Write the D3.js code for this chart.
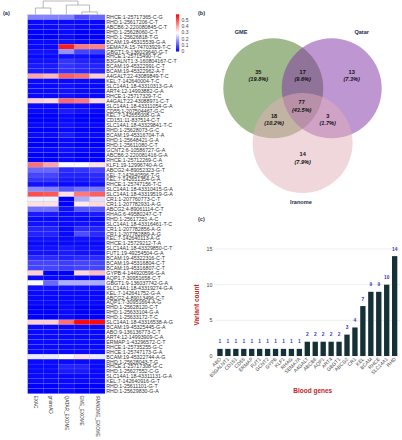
<!DOCTYPE html>
<html><head><meta charset="utf-8">
<script src="https://cdn.jsdelivr.net/npm/d3@7"></script>
<style>body{margin:0;background:#fff}svg{display:block;font-family:"Liberation Sans",Arial,sans-serif}</style>
</head><body><svg id="c" width="402" height="440"></svg>
<script>
const rowLabels = ["RHCE:1-25717365-C-G","RHD:1-25617206-C-T","ABCB6:2-220080845-C-T","RHD:1-25628060-C-T","RHD:1-25626818-T-G","BCAM:19-45315539-G-A","SEMA7A:15-74703929-T-C","GBGT1:9-136029640-G-T","RHCE:1-25715490-T-C","B3GALNT1:3-160804167-C-T",
"BCAM:19-45322991-C-T","BCAM:19-45322962-A-T","A4GALT:22-43089849-T-C","KEL:7-142640004-T-C","SLC14A1:18-43310313-G-A","ART4:12-14993882-G-A","RHCE:1-25717329-T-C","A4GALT:22-43088971-C-T","SLC14A1:18-43311054-G-A","CD55:1-207504467-G-C",
"KEL:7-142655008-G-A","CD151:11-837514-C-T","SLC14A1:18-43329841-T-C","RHD:1-25628073-G-C","BCAM:19-45316704-T-A","RHD:1-25648421-G-A","RHD:1-25611080-C-T","GCNT2:6-10586727-G-A","ABCB6:2-220081416-G-A","RHCE:1-25712269-C-A",
"KLF1:19-12996740-A-G","ABCG2:4-89052323-G-T","KEL:7-142640596-T-G","KEL:7-142651354-G-A","RHCE:1-25747156-T-C","SLC14A1:18-43310415-G-A","SLC14A1:18-43319519-G-A","CR1:1-207760773-C-T","CR1:1-207782931-A-G","ABCG2:4-89061114-C-T",
"RHAG:6-49580247-C-T","RHD:1-25617251-A-C","SLC14A1:18-43316461-T-C","CR1:1-207782856-A-G","CR1:1-207782889-A-G","KEL:7-142640113-A-G","RHCE:1-25729212-T-A","SLC14A1:18-43329850-C-T","FUT1:19-49254504-G-A","BCAM:19-45322316-C-T",
"BCAM:19-45316804-C-T","BCAM:19-45316807-C-T","GYPB:4-144920596-G-A","AQP1:7-30951658-C-T","GBGT1:9-136037742-G-A","SLC14A1:18-43319274-G-A","KEL:7-142641752-G-A","ABCG2:4-89013496-C-T","AQP1:7-30951664-A-G","RHD:1-25628120-C-T",
"RHD:1-25633104-G-A","RHD:1-25633172-T-C","SLC14A1:18-43316538-A-G","BCAM:19-45325445-G-A","ABO:9-136136773-C-T","ART4:12-14993909-C-A","ERMAP:1-43296572-C-T","RHCE:1-25735255-G-C","RHCE:1-25747173-G-A","BCAM:19-45322744-A-G",
"RHD:1-25628043-T-G","RHCE:1-25717308-G-C","RHD:1-25627552-C-G","SLC14A1:18-43311131-G-A","KEL:7-142640916-G-T","RHD:1-25611101-G-T","RHD:1-25629830-G-A"];
const colLabels = ["EXAC","gnomAD","QATAR_EXOME","GME_EXOME","IRANOME_EXOME"];
const exac = [.15,.01,.01,0,0,.01,.01,.02,.01,.02, .03,.03,.40,.01,.01,.01,.01,.35,.01,.01, 0,0,.01,0,.01,0,0,.01,0,0, .46,.12,.08,.06,.02,.16,.50,.28,.33,.13, .03,.01,.02,.04,.04,.02,.01,.02,.02,.05, .08,.08,.35,.01,.29,.02,.01,.01,.01,0, 0,0,.35,.01,.01,.01,.01,.01,.01,.27, .01,.01,.01,.01,.01,0,0];
const gnomad = [.15,.01,.01,0,0,.01,.01,.02,.01,.02, .03,.03,.38,.01,.01,.01,.01,.34,.01,.01, 0,0,.01,0,.01,0,0,.01,0,0, .40,.12,.08,.06,.02,.15,.49,.28,.33,.13, .03,.01,.02,.04,.04,.02,.01,.02,.02,.05, .08,.08,0,.01,.12,.02,.01,.01,.01,0, 0,0,.35,.01,.01,.01,.01,.01,.01,.27, .01,.01,.01,.01,.01,0,0];
const qatar = [.15,.01,.02,.01,.01,.02,.56,.17,.02,.06, .06,.06,.48,.01,.02,.02,.02,.47,.01,.03, .01,.01,.02,.01,.03,.01,.01,.02,.01,.01, .30,.05,.04,.03,.01,.10,.33,0,0,.02, .01,.01,.01,.01,.01,.01,.01,.03,.03,.04, .07,.07,0,.01,.20,.02,.01,.01,.01,.01, .01,.01,.46,.01,.01,.01,.01,.01,.01,.30, .01,.04,.03,.01,.01,.01,.01];
const gme = [.09,.01,.01,0,0,.01,.45,.08,.02,.04, .05,.05,.46,.01,.01,.01,.01,.45,.01,.02, 0,0,.01,0,.01,0,0,.01,0,0, .30,.06,.04,.03,.01,.13,.45,.20,.32,.10, .02,.01,.02,.05,.09,.02,.01,.02,.02,.05, .08,.08,.34,.01,.20,.02,.01,.01,.01,0, 0,0,.58,.01,.01,.01,.01,.01,.01,.33, .01,.04,.03,.01,.01,0,0];
const iranome = [.12,.01,.01,0,0,.01,.44,.07,.01,.03, .04,.04,.35,.01,.01,.01,.01,.34,.01,.01, 0,0,.01,0,.01,0,0,.01,0,0, .33,.08,.05,.04,.02,.14,.48,.26,.34,.10, .03,.01,.02,.04,.05,.02,.01,.02,.02,.05, .08,.08,.37,.01,.20,.02,.01,.01,.01,0, 0,0,.58,.01,.01,.01,.01,.01,.01,.27, .01,.01,.01,.01,.01,0,0];
const legendTicks = [0, 0.1, 0.2, 0.3, 0.4, 0.5];
// column dendrogram (merge heights, relative)
const dendro = {h:1, children:[{h:0.48, children:[{name:"EXAC"},{name:"gnomAD"}]},{h:0.7, children:[{name:"QATAR_EXOME"},{h:0.19, children:[{name:"GME_EXOME"},{name:"IRANOME_EXOME"}]}]}]};

const vennSets = ["GME","Qatar","Iranome"];
const vennRegions = ["GME","GME&Qatar","Qatar","GME&Qatar&Iranome","GME&Iranome","Qatar&Iranome","Iranome"];
const vennCounts = [35,17,13,77,18,3,14];

const genes = ["ABO","B3GALNT1","CD151","CD55","ERMAP","FUT1","GCNT2","GYPB","KLF1","RHAG","SEMA7A","A4GALT","ABCB6","AQP1","ART4","GBGT1","ABCG2","CR1","KEL","BCAM","RHCE","SLC14A1","RHD"];
const geneCounts = [1,1,1,1,1,1,1,1,1,1,1,2,2,2,2,2,3,4,7,9,9,10,14];
const yTicks = [0,5,10,15];

const svg = d3.select("#c");
const navy = "#1f2d5a";
const panelLab = (t,x,y)=>svg.append("text").attr("x",x).attr("y",y).attr("font-size",5.5).attr("font-weight","bold").attr("fill",navy).text(t);

// ---------- (a) heatmap ----------
panelLab("(a)",3,15);
const cols = [exac,gnomad,qatar,gme,iranome];
const x = d3.scaleBand().domain(colLabels).range([27.7,105]);
const y = d3.scaleBand().domain(rowLabels).range([14.7,393.6]);
const color = d3.scaleLinear().domain([0,0.295,0.59]).range(["#0000ff","#ffffff","#ff0000"]);
const cells = [];
rowLabels.forEach((r,i)=>colLabels.forEach((c,j)=>cells.push({r,c,v:cols[j][i]})));
svg.append("g").selectAll("rect").data(cells).join("rect")
  .attr("x",d=>x(d.c)).attr("y",d=>y(d.r)).attr("width",x.bandwidth()).attr("height",y.bandwidth())
  .attr("fill",d=>color(d.v)).attr("stroke","#9aa0c8").attr("stroke-width",0.25).attr("stroke-opacity",0.6);
svg.append("g").selectAll("text").data(rowLabels).join("text")
  .attr("x",106.3).attr("y",d=>y(d)+y.bandwidth()/2+1.9).attr("font-size",5.3).attr("fill","#333").text(d=>d);
svg.append("g").selectAll("text").data(colLabels).join("text")
  .attr("transform",d=>`translate(${x(d)+x.bandwidth()/2-1.7},395.5) rotate(90)`)
  .attr("font-size",4.7).attr("fill","#333").text(d=>d);
// dendrogram
const root = d3.hierarchy(dendro);
const hy = d3.scaleLinear().domain([0,1]).range([14.5,1]);
root.eachAfter(n=>{ if(!n.children){n.px = x(n.data.name)+x.bandwidth()/2; n.py = hy(0);} else {n.px = d3.mean(n.children,c=>c.px); n.py = hy(n.data.h);} });
const dg = svg.append("g").attr("stroke","#8a8a8a").attr("stroke-width",0.6).attr("fill","none");
root.descendants().filter(n=>n.children).forEach(n=>{
  const [a,b] = n.children;
  dg.append("path").attr("d",`M${a.px},${a.py}V${n.py}H${b.px}V${b.py}`);
});
// legend
const lg = svg.append("defs").append("linearGradient").attr("id","lg").attr("x1",0).attr("y1",1).attr("x2",0).attr("y2",0);
[[0,"#0000ff"],[0.5,"#ffffff"],[1,"#ff0000"]].forEach(s=>lg.append("stop").attr("offset",s[0]).attr("stop-color",s[1]));
const ly = d3.scaleLinear().domain([0,0.59]).range([51.5,14.3]);
svg.append("rect").attr("x",176).attr("y",ly(0.59)).attr("width",3.2).attr("height",ly(0)-ly(0.59)).attr("fill","url(#lg)");
svg.append("g").selectAll("text").data(legendTicks).join("text")
  .attr("x",181.5).attr("y",d=>ly(d)+1.8).attr("font-size",5).attr("fill","#444").text(d=>d);

// ---------- (b) venn ----------
panelLab("(b)",198,15);
const R = 50;
const vc = {GME:[273.3,88.3], Qatar:[331.7,88.3], Iranome:[302.6,143]};
const vfill = {GME:"#417319", Qatar:"#7d2da5", Iranome:"#e1afb9"};
svg.append("g").selectAll("circle").data(vennSets).join("circle")
  .attr("cx",d=>vc[d][0]).attr("cy",d=>vc[d][1]).attr("r",R)
  .attr("fill",d=>vfill[d]).attr("fill-opacity",0.5);
const total = d3.sum(vennCounts);
const regionPos = {"GME":[258.3,71.7],"GME&Qatar":[302.7,71.7],"Qatar":[351.7,71.7],"GME&Qatar&Iranome":[301.7,102.3],"GME&Iranome":[274,115.7],"Qatar&Iranome":[327.7,115.7],"Iranome":[302.7,154.3]};
const vl = svg.append("g").attr("text-anchor","middle").attr("font-size",5.6).attr("font-weight","bold").attr("fill","#111");
vennRegions.forEach((r,i)=>{
  const [px,py] = regionPos[r];
  vl.append("text").attr("x",px).attr("y",py+2).text(vennCounts[i]);
  vl.append("text").attr("x",px).attr("y",py+9.5).attr("font-style","italic").text(`(${(vennCounts[i]/total*100).toFixed(1)}%)`);
});
const setPos = {GME:[241,34], Qatar:[361.7,34], Iranome:[301,203.7]};
svg.append("g").selectAll("text").data(vennSets).join("text")
  .attr("x",d=>setPos[d][0]).attr("y",d=>setPos[d][1]).attr("text-anchor","middle")
  .attr("font-size",5.6).attr("font-weight","bold").attr("fill",navy).text(d=>d);

// ---------- (c) bar chart ----------
panelLab("(c)",198,221);
const bx = d3.scaleBand().domain(genes).range([215.7,398.9]).paddingInner(0.33).paddingOuter(0.2);
const by = d3.scaleLinear().domain([0,15]).range([356,249]);
svg.append("g").selectAll("line").data(yTicks).join("line")
  .attr("x1",214.5).attr("x2",400).attr("y1",d=>by(d)).attr("y2",d=>by(d))
  .attr("stroke","#e3e3e3").attr("stroke-width",0.6);
svg.append("g").selectAll("text").data(yTicks).join("text")
  .attr("x",212.5).attr("y",d=>by(d)+1.9).attr("text-anchor","end").attr("font-size",5.3).attr("fill","#444").text(d=>d);
svg.append("g").selectAll("rect").data(genes).join("rect")
  .attr("x",d=>bx(d)).attr("y",(d,i)=>by(geneCounts[i])).attr("width",bx.bandwidth())
  .attr("height",(d,i)=>by(0)-by(geneCounts[i])).attr("fill","#153036");
svg.append("g").selectAll("text").data(genes).join("text")
  .attr("x",d=>bx(d)+bx.bandwidth()/2).attr("y",(d,i)=>by(geneCounts[i])-5.4)
  .attr("text-anchor","middle").attr("font-size",4.8).attr("font-weight","bold").attr("fill","#3535c8").text((d,i)=>geneCounts[i]);
svg.append("g").selectAll("text").data(genes).join("text")
  .attr("transform",d=>`translate(${bx(d)+bx.bandwidth()/2+1.6},359.5) rotate(-45)`)
  .attr("text-anchor","end").attr("font-size",5).attr("fill","#444").text(d=>d);
svg.append("text").attr("x",312.7).attr("y",393).attr("text-anchor","middle").attr("font-size",6.5)
  .attr("font-weight","bold").attr("fill","#c41e24").text("Blood genes");
svg.append("text").attr("transform","translate(199,305) rotate(-90)").attr("text-anchor","middle").attr("font-size",6.5)
  .attr("font-weight","bold").attr("fill","#c41e24").text("Variant count");
</script></body></html>
